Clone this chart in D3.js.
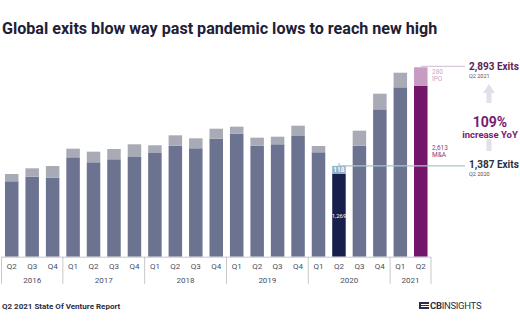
<!DOCTYPE html>
<html><head><meta charset="utf-8">
<script src="https://cdn.jsdelivr.net/npm/d3@7"></script>
<style>
html,body{margin:0;padding:0;background:#fff;}
svg{display:block;font-family:Roboto,"Open Sans",sans-serif;}
</style></head>
<body>
<svg id="c" width="520" height="325"></svg>
<script>
const quarters = ["Q2","Q3","Q4","Q1","Q2","Q3","Q4","Q1","Q2","Q3","Q4","Q1","Q2","Q3","Q4","Q1","Q2","Q3","Q4","Q1","Q2"];
const years = ["2016","2016","2016","2017","2017","2017","2017","2018","2018","2018","2018","2019","2019","2019","2019","2020","2020","2020","2020","2021","2021"];
const yearLabels = ["2016","2017","2018","2019","2020","2021"];
const mna = [1152,1222,1207,1518,1442,1488,1523,1584,1695,1656,1802,1879,1695,1717,1844,1595,1269,1695,2251,2587,2613];
const ipo = [111,128,178,132,162,157,194,118,159,152,153,107,123,116,157,96,118,230,239,223,280];

const svg = d3.select("#c");
const ids = quarters.map((q,i)=>years[i]+q);
const x = d3.scaleBand().domain(ids).range([1.5,431]).paddingInner(0.34).paddingOuter(0.17);
const y = d3.scaleLinear().domain([0,2893]).range([256.7,67.3]);

// title
svg.append("text").attr("x",2).attr("y",34).attr("font-size",16.1).attr("font-weight",700)
  .attr("fill","#1d2036").text("Global exits blow way past pandemic lows to reach new high");

const colM = (i)=> i===16 ? "#16204a" : i===20 ? "#74156c" : "#6b7390";
const colI = (i)=> i===16 ? "#8fb1c6" : i===20 ? "#c79cc3" : "#a8aab5";

const g = svg.append("g");
g.selectAll("rect.m").data(mna).join("rect").attr("class","m")
  .attr("x",(d,i)=>x(ids[i])).attr("width",x.bandwidth())
  .attr("y",d=>y(d)).attr("height",d=>y(0)-y(d)).attr("fill",(d,i)=>colM(i));
g.selectAll("rect.i").data(ipo).join("rect").attr("class","i")
  .attr("x",(d,i)=>x(ids[i])).attr("width",x.bandwidth())
  .attr("y",(d,i)=>y(mna[i]+d)).attr("height",(d,i)=>y(mna[i])-y(mna[i]+d)).attr("fill",(d,i)=>colI(i));

// axis baseline and separators
svg.append("line").attr("x1",1.5).attr("x2",431).attr("y1",y(0)+0.5).attr("y2",y(0)+0.5)
  .attr("stroke","#c8c8cc").attr("stroke-width",1);
const sepIdx = [0,3,7,11,15,19,21];
sepIdx.forEach(k=>{
  const sx = k<21 ? x(ids[k]) - x.step()*x.paddingInner()/2 : x(ids[20])+x.bandwidth()+x.step()*x.paddingInner()/2;
  svg.append("line").attr("x1",sx).attr("x2",sx).attr("y1",y(0)).attr("y2",284)
    .attr("stroke","#c8c8cc").attr("stroke-width",1);
});
svg.selectAll("text.q").data(quarters).join("text").attr("class","q")
  .attr("x",(d,i)=>x(ids[i])+x.bandwidth()/2).attr("y",269).attr("text-anchor","middle")
  .attr("font-size",8).attr("fill","#4a4d5c").text(d=>d);
yearLabels.forEach(yr=>{
  const idx = ids.map((d,i)=>i).filter(i=>years[i]===yr);
  const cx = (x(ids[idx[0]]) + x(ids[idx[idx.length-1]]) + x.bandwidth())/2;
  svg.append("text").attr("x",cx).attr("y",283).attr("text-anchor","middle")
    .attr("font-size",8).attr("fill","#4a4d5c").text(yr);
});

// in-bar labels
const b16 = x(ids[16]), bw = x.bandwidth();
svg.append("text").attr("x",b16+bw/2).attr("y",y(mna[16]+ipo[16]/2)+2.5).attr("text-anchor","middle")
  .attr("font-size",6.5).attr("font-weight",700).attr("fill","#fff").text("118");
svg.append("text").attr("x",b16+bw/2).attr("y",y(mna[16]/2)+2.5).attr("text-anchor","middle")
  .attr("font-size",6).attr("fill","#fff").text("1,269");

// annotation lines
const t16 = y(mna[16]+ipo[16]);
svg.append("line").attr("x1",b16+bw/2).attr("x2",465).attr("y1",t16).attr("y2",t16)
  .attr("stroke","#a9c5cc").attr("stroke-width",1.2);
svg.append("line").attr("x1",b16+bw/2).attr("x2",b16+bw/2).attr("y1",t16-3).attr("y2",t16)
  .attr("stroke","#a9c5cc").attr("stroke-width",1.2);
const b20 = x(ids[20]);
const t20 = y(mna[20]+ipo[20]);
svg.append("line").attr("x1",b20+bw/2).attr("x2",465).attr("y1",t20-1).attr("y2",t20-1)
  .attr("stroke","#d9c8dc").attr("stroke-width",1.2);

// side labels for Q2 2021
svg.append("text").attr("x",432).attr("y",74).attr("font-size",6.5).attr("fill","#c9a8c9").text("280");
svg.append("text").attr("x",432).attr("y",81).attr("font-size",6.5).attr("fill","#c9a8c9").text("IPO");
svg.append("text").attr("x",432).attr("y",150).attr("font-size",6.5).attr("fill","#8c3b83").text("2,613");
svg.append("text").attr("x",432).attr("y",157).attr("font-size",6.5).attr("fill","#8c3b83").text("M&A");

svg.append("text").attr("x",469).attr("y",70).attr("font-size",10).attr("font-weight",700).attr("fill","#5a2458").text("2,893 Exits");
svg.append("text").attr("x",469).attr("y",78).attr("font-size",5.5).attr("fill","#6a4a68").text("Q2 2021");
svg.append("text").attr("x",469).attr("y",168).attr("font-size",10).attr("font-weight",700).attr("fill","#2a2f45").text("1,387 Exits");
svg.append("text").attr("x",469).attr("y",176).attr("font-size",5.5).attr("fill","#4a4d5c").text("Q2 2020");

// arrow
const ax = 489;
svg.append("path").attr("d",`M${ax-6},${93} L${ax},${84} L${ax+6},${93} Z`).attr("fill","#e3dfea");
svg.append("rect").attr("x",ax-2.5).attr("y",93).attr("width",5).attr("height",10).attr("fill","#e3dfea");
svg.append("rect").attr("x",ax-2.5).attr("y",139).attr("width",5).attr("height",12).attr("fill","#e3dfea");
svg.append("text").attr("x",490).attr("y",127).attr("text-anchor","middle").attr("font-size",14).attr("font-weight",700).attr("fill","#7a1b70").text("109%");
svg.append("text").attr("x",490).attr("y",137.5).attr("text-anchor","middle").attr("font-size",9.5).attr("font-weight",700).attr("fill","#7a1b70").text("increase YoY");

// footer
svg.append("text").attr("x",2).attr("y",309).attr("font-size",8).attr("font-weight",700).attr("fill","#2b2e40").text("Q2 2021 State Of Venture Report");
// logo
const lg = svg.append("g").attr("transform","translate(419,302)");
lg.append("rect").attr("x",0).attr("y",0).attr("width",10).attr("height",7).attr("fill","#2b2f48");
lg.append("rect").attr("x",2).attr("y",2).attr("width",8).attr("height",1).attr("fill","#fff");
lg.append("rect").attr("x",2).attr("y",4).attr("width",8).attr("height",1).attr("fill","#fff");
lg.append("text").attr("x",11).attr("y",7.3).attr("font-size",9.5).attr("font-weight",700).attr("fill","#2b2f48")
  .attr("letter-spacing",-0.3)
  .call(t=>{t.append("tspan").text("CB"); t.append("tspan").attr("font-weight",400).text("INSIGHTS");});
</script>
</body></html>
